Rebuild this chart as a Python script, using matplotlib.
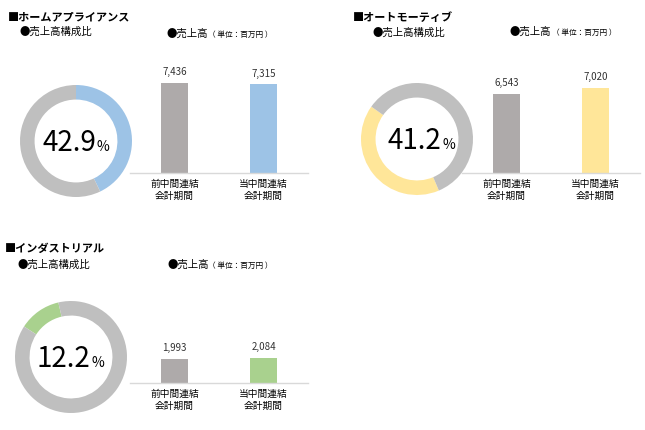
import matplotlib
matplotlib.use('Agg')
import matplotlib.pyplot as plt

plt.rcParams['font.family'] = ['Noto Sans CJK JP', 'DejaVu Sans']

W, H = 645, 430

# --- Data ---
segments = ['ホームアプライアンス', 'オートモーティブ', 'インダストリアル']
share = [42.9, 41.2, 12.2]                 # 売上高構成比 [%]
periods = ['前中間連結\n会計期間', '当中間連結\n会計期間']
sales_prev = [7436, 6543, 1993]            # 前中間連結会計期間 [百万円]
sales_curr = [7315, 7020, 2084]            # 当中間連結会計期間 [百万円]
seg_colors = ['#9DC3E6', '#FFE699', '#A9D18E']

RING_GRAY = '#BFBFBF'
BAR_GRAY = '#AEAAAA'
AXIS_GRAY = '#D9D9D9'

# --- Layout in pixels (per panel) ---
layout = [
    dict(title=(8, 17), sub1=(20, 32), sub2=(166, 34), donut=(76, 141, 56),
         start=90, txt_dx=-0.12, bars=(130, 173)),
    dict(title=(353, 17), sub1=(372, 33), sub2=(510, 32), donut=(417, 139, 56),
         start=-67, txt_dx=-0.04, bars=(462, 173)),
    dict(title=(5, 248), sub1=(17, 265), sub2=(167, 265), donut=(71, 357, 56),
         start=147, txt_dx=-0.13, bars=(130, 383)),
]


def box(l, t, w, h):
    return [l / W, 1 - (t + h) / H, w / W, h / H]


def fig_text(x, y, s, **kw):
    return fig.text(x / W, 1 - y / H, s, va='center', ha='left', **kw)


def donut(cx, cy, r, value, color, start, dx):
    ax = fig.add_axes(box(cx - r, cy - r, 2 * r, 2 * r))
    ax.pie([value, 100 - value], colors=[color, RING_GRAY], startangle=start,
           counterclock=False, wedgeprops=dict(width=0.26, linewidth=0))
    ax.set_xlim(-1, 1)
    ax.set_ylim(-1, 1)
    ax.set_aspect('equal')
    t = ax.text(dx, -0.03, f'{value:.1f}', ha='center', va='center', fontsize=20)
    ax.annotate('%', xy=(1, 0.12), xycoords=t, xytext=(0.5, 0),
                textcoords='offset points', ha='left', va='bottom', fontsize=10)


def bars(left, base, prev, curr, color):
    height = 109
    ax = fig.add_axes(box(left, base - height, 178, height))
    x = [0, 1]
    vals = [prev, curr]
    ax.bar(x, vals, width=0.31, color=[BAR_GRAY, color])
    ax.set_xlim(-0.5, 1.5)
    ax.set_ylim(0, 9000)
    for s in ['top', 'right', 'left']:
        ax.spines[s].set_visible(False)
    ax.spines['bottom'].set_color(AXIS_GRAY)
    ax.spines['bottom'].set_linewidth(1.0)
    ax.set_yticks([])
    ax.set_xticks(x, periods, fontsize=7, linespacing=1.35)
    ax.tick_params(axis='x', length=0, pad=4)
    ax.patch.set_alpha(0)
    for xi, v in zip(x, vals):
        ax.annotate(f'{v:,}', (xi, v), xytext=(0, 4), textcoords='offset points',
                    ha='center', va='bottom', fontsize=7, color='#333333')


fig = plt.figure(figsize=(W / 100, H / 100), dpi=100)

for i, seg in enumerate(segments):
    L = layout[i]
    fig_text(*L['title'], '■' + seg, fontsize=8, fontweight='bold')
    fig_text(*L['sub1'], '●売上高構成比', fontsize=7.5)
    t = fig_text(*L['sub2'], '●売上高', fontsize=7.5)
    fig.add_artist(matplotlib.text.Annotation(
        '（ 単位：百万円 ）', xy=(1, 0.45), xycoords=t, xytext=(0, 0),
        textcoords='offset points', ha='left', va='center', fontsize=5.5))
    cx, cy, r = L['donut']
    donut(cx, cy, r, share[i], seg_colors[i], L['start'], L['txt_dx'])
    bars(*L['bars'], sales_prev[i], sales_curr[i], seg_colors[i])

fig.savefig('out.png', dpi=100)
